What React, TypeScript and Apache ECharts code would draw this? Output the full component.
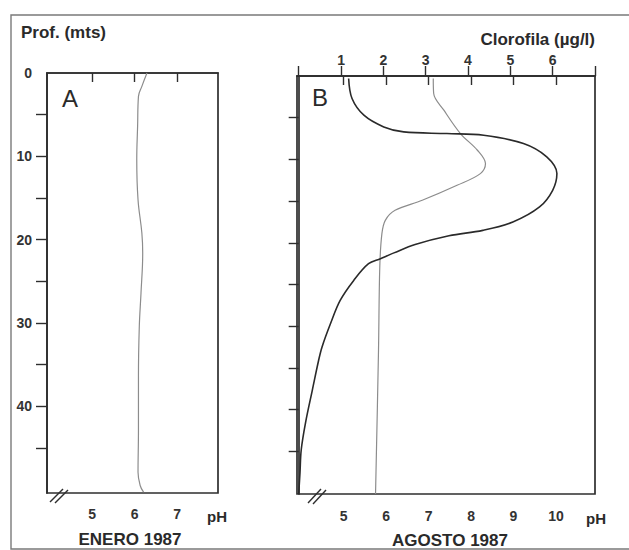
import React, { useEffect, useRef } from "react";
import * as echarts from "echarts";

// Panel A (Enero 1987): pH vs depth
const depthA = [0, 1.6, 2.8, 6.4, 10.4, 15.2, 19.2, 21.6, 26.4, 30.4, 36.4, 42.8, 47.9, 49.5, 50.3];
const phA = [6.29, 6.17, 6.09, 6.07, 6.05, 6.08, 6.17, 6.19, 6.15, 6.11, 6.09, 6.09, 6.08, 6.13, 6.21];

// Panel B (Agosto 1987): chlorophyll vs depth
const depthChl = [0.3, 2.7, 4.7, 6.1, 6.7, 6.9, 7.1, 8.1, 9.7, 11.7, 13.7, 15.7, 17.5, 18.5, 19.15, 20.2, 21.2, 21.9, 22.5, 24.5, 26.9, 29.7, 32.5, 34.1, 37.7, 41.6, 44.8, 47.6, 50.1];
const chlB = [1.18, 1.26, 1.54, 2.01, 2.48, 3.5, 4.37, 5.31, 5.86, 6.1, 6.0, 5.69, 5.06, 4.35, 3.55, 2.75, 2.25, 1.93, 1.65, 1.3, 0.98, 0.75, 0.55, 0.47, 0.32, 0.16, 0.06, 0.03, 0.0];

// Panel B: pH vs depth
const depthPhB = [0.3, 2.1, 4.1, 6.9, 8.9, 10.5, 11.7, 13.1, 14.9, 16.1, 17.3, 18.9, 22.9, 32.9, 50.1];
const phB = [7.11, 7.12, 7.36, 7.75, 8.15, 8.34, 8.22, 7.67, 6.85, 6.21, 5.98, 5.9, 5.85, 5.82, 5.75];

// Tick values / labels
const depthTicks = [5, 10, 15, 20, 25, 30, 35, 40, 45];
const depthLabels = [0, 10, 20, 30, 40];
const phTicksA = [5, 6, 7];
const phTicksB = [5, 6, 7, 8, 9, 10];
const chlTicks = [0, 1, 2, 3, 4, 5, 6, 7];
const chlLabels = [1, 2, 3, 4, 5, 6];

const FONT = '"Liberation Sans", Arial, Helvetica, sans-serif';
const AX = "#2e2e2e";

function txt(text: string, x: number, y: number, size: number, weight: string, align: string) {
  return {
    type: "text",
    x,
    y,
    silent: true,
    style: {
      text,
      fill: "#2a2a2a",
      font: `${weight} ${size}px ${FONT}`,
      align,
      verticalAlign: "middle",
      textAlign: align,
      textVerticalAlign: "middle",
    },
  };
}

function ln(x1: number, y1: number, x2: number, y2: number, w = 1.4, c = AX) {
  return {
    type: "line",
    silent: true,
    shape: { x1, y1, x2, y2 },
    style: { stroke: c, lineWidth: w },
  };
}

export default function App() {
  const ref = useRef<HTMLDivElement>(null);
  useEffect(() => {
    if (!ref.current) return;
    const chart = echarts.init(ref.current, undefined, { renderer: "svg" });
    const lineStyleAxis = { color: AX, width: 1.7 };
    const labelStyle = { color: "#333", fontSize: 14, fontWeight: "bold" as const, fontFamily: FONT };
    chart.setOption({
      animation: false,
      backgroundColor: "#ffffff",
      textStyle: { fontFamily: FONT },
      grid: [
        { left: 47, top: 73, width: 171, height: 420, show: true, borderColor: AX, borderWidth: 1.7, containLabel: false, outerBoundsMode: "none" },
        { left: 297, top: 76, width: 298, height: 418, show: true, borderColor: AX, borderWidth: 1.7, containLabel: false, outerBoundsMode: "none" },
      ],
      xAxis: [
        {
          type: "value", gridIndex: 0, position: "bottom", min: 3.94, max: 7.96,
          splitLine: { show: false },
          axisLine: { show: true, lineStyle: lineStyleAxis },
          axisTick: { show: true, length: 9, lineStyle: { color: AX, width: 1.4 }, customValues: phTicksA },
          axisLabel: { ...labelStyle, margin: 14, customValues: phTicksA },
        },
        {
          type: "value", gridIndex: 1, position: "bottom", min: 3.9, max: 10.92,
          splitLine: { show: false },
          axisLine: { show: true, lineStyle: lineStyleAxis },
          axisTick: { show: true, length: 9, lineStyle: { color: AX, width: 1.4 }, customValues: phTicksB },
          axisLabel: { ...labelStyle, margin: 15, customValues: phTicksB },
        },
        {
          type: "value", gridIndex: 1, position: "top", min: -0.04, max: 7.0,
          splitLine: { show: false },
          axisLine: { show: true, lineStyle: lineStyleAxis },
          axisTick: { show: true, length: 10, lineStyle: { color: AX, width: 1.4 }, customValues: chlTicks },
          axisLabel: { ...labelStyle, margin: 9, customValues: chlLabels },
        },
      ],
      yAxis: [
        {
          type: "value", gridIndex: 0, inverse: true, min: 0, max: 50.4,
          splitLine: { show: false },
          axisLine: { show: true, lineStyle: lineStyleAxis },
          axisTick: { show: true, length: 11, lineStyle: { color: AX, width: 1.4 }, customValues: depthTicks },
          axisLabel: { ...labelStyle, margin: 15, customValues: depthLabels },
        },
        {
          type: "value", gridIndex: 1, inverse: true, min: 0, max: 50.1,
          splitLine: { show: false },
          axisLine: { show: true, lineStyle: lineStyleAxis },
          axisTick: { show: true, length: 10, lineStyle: { color: AX, width: 1.4 }, customValues: depthTicks },
          axisLabel: { show: false },
        },
      ],
      series: [
        {
          name: "pH enero", type: "line", xAxisIndex: 0, yAxisIndex: 0,
          data: depthA.map((d, i) => [phA[i], d]),
          smooth: 0.4, showSymbol: false, symbol: "none",
          lineStyle: { color: "#8c8c8c", width: 1.2 },
        },
        {
          name: "pH agosto", type: "line", xAxisIndex: 1, yAxisIndex: 1,
          data: depthPhB.map((d, i) => [phB[i], d]),
          smooth: 0.35, showSymbol: false, symbol: "none",
          lineStyle: { color: "#8c8c8c", width: 1.2 },
        },
        {
          name: "Clorofila", type: "line", xAxisIndex: 2, yAxisIndex: 1,
          data: depthChl.map((d, i) => [chlB[i], d]),
          smooth: 0.35, showSymbol: false, symbol: "none",
          lineStyle: { color: "#2a2a2a", width: 1.6 },
        },
      ],
      graphic: [
        {
          type: "polyline", silent: true,
          shape: { points: [[640, 15], [11, 15], [11, 549], [640, 549]] },
          style: { stroke: "#7a7a7a", lineWidth: 1.4, fill: "none" },
        },
        txt("Prof. (mts)", 21, 32, 17, "bold", "left"),
        txt("Clorofila (\u00b5g/l)", 595, 39, 17, "bold", "right"),
        txt("A", 62, 98, 24, "normal", "left"),
        txt("B", 312, 97, 24, "normal", "left"),
        txt("pH", 217, 516, 15, "bold", "center"),
        txt("pH", 596, 518, 15, "bold", "center"),
        txt("ENERO 1987", 130, 539, 17, "bold", "center"),
        txt("AGOSTO 1987", 450, 540, 17, "bold", "center"),
        ln(50, 502, 63, 489),
        ln(55, 503, 68, 490),
        ln(308, 503, 321, 489),
        ln(313, 504, 326, 490),
      ],
    });
    return () => chart.dispose();
  }, []);
  return (
    <div
      ref={ref}
      style={{ position: "fixed", left: 0, top: 0, width: 629, height: 550 }}
    />
  );
}
